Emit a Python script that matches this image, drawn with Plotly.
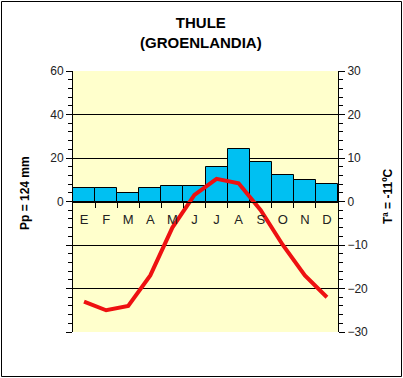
import plotly.graph_objects as go

months = ["E", "F", "M", "A", "M", "J", "J", "A", "S", "O", "N", "D"]
precip = [6, 6, 4, 6, 7, 7, 16, 24, 18, 12, 10, 8]
temp = [-23, -25, -24, -17, -6, 1.5, 5.2, 4.2, -2, -10, -17, -22]
left_ticks = [-60, -40, -20, 0, 20, 40, 60]
left_text = ["", "", "", "0", "20", "40", "60"]
right_ticks = [-30, -20, -10, 0, 10, 20, 30]

W, H = 403, 378
ML, MR, MT, MB = 73, 65, 71, 46
PW, PH = W - ML - MR, H - MT - MB

def px(x):
    return (x - ML) / PW

def py(y):
    return (H - MB - y) / PH

xs = list(range(len(months)))
bounds = [i + 0.5 for i in xs[:-1]]
font = "Arial, Liberation Sans, sans-serif"

fig = go.Figure()
fig.add_trace(go.Bar(x=xs, y=precip, yaxis="y", marker=dict(color="#00C0F2", line=dict(color="black", width=1)), width=1))
fig.add_trace(go.Scatter(x=xs, y=temp, yaxis="y2", mode="lines", line=dict(color="#EE1111", width=4)))

fig.update_layout(
    width=W, height=H, margin=dict(l=ML, r=MR, t=MT, b=MB),
    paper_bgcolor="white", plot_bgcolor="#FFFFCC",
    showlegend=False, bargap=0,
    font=dict(family=font, color="#222", size=12),
    xaxis=dict(range=[-0.5, len(months) - 0.5], tickmode="array", tickvals=xs, ticktext=months,
               ticks="", showgrid=False, zeroline=False, showline=True, linecolor="black", linewidth=1,
               anchor="free", position=0.5, tickfont=dict(size=13, color="#222"), ticklabelstandoff=6,
               minor=dict(tickmode="array", tickvals=bounds, ticks="outside", ticklen=5, tickcolor="black", showgrid=False),
               fixedrange=True),
    yaxis=dict(range=[-60, 60], tickmode="array", tickvals=left_ticks, ticktext=left_text,
               ticks="outside", ticklen=6, tickcolor="black", showgrid=False, zeroline=False,
               showline=True, linecolor="black", linewidth=1,
               minor=dict(dtick=4, tick0=0, ticks="outside", ticklen=4, tickcolor="black", showgrid=False)),
    yaxis2=dict(range=[-30, 30], tickmode="array", tickvals=right_ticks, overlaying="y", side="right",
                ticks="outside", ticklen=6, tickcolor="black", showgrid=True, gridcolor="black", gridwidth=1,
                zeroline=False, showline=True, linecolor="black", linewidth=1,
                minor=dict(dtick=2, tick0=0, ticks="outside", ticklen=4, tickcolor="black", showgrid=False)),
    annotations=[
        dict(text="<b>THULE<br>(GROENLANDIA)</b>", xref="paper", yref="paper", x=px(201), y=py(32),
             showarrow=False, font=dict(size=15, color="black"), xanchor="center", yanchor="middle"),
        dict(text="<b>Pp = 124 mm</b>", xref="paper", yref="paper", x=px(25), y=py(193), textangle=-90,
             showarrow=False, font=dict(size=12, color="black"), xanchor="center", yanchor="middle"),
        dict(text="<b>Tª = -11ºC</b>", xref="paper", yref="paper", x=px(388), y=py(196), textangle=-90,
             showarrow=False, font=dict(size=12, color="black"), xanchor="center", yanchor="middle"),
    ],
    shapes=[dict(type="rect", xref="paper", yref="paper", x0=px(1.5), x1=px(401.5), y0=py(376.5), y1=py(1.5),
                 line=dict(color="black", width=1), layer="above")],
)

fig.write_html("out.html", config={"displayModeBar": False},
               post_script="document.body.style.margin='0';document.body.style.padding='0';document.body.style.overflow='hidden';")
